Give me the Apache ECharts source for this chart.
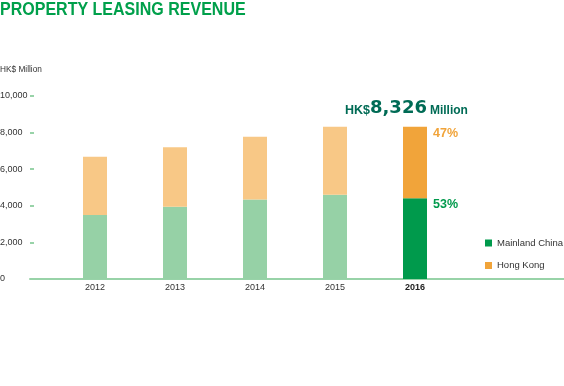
<!DOCTYPE html>
<html><head><meta charset="utf-8">
<script src="https://cdn.jsdelivr.net/npm/echarts@6/dist/echarts.min.js"></script>
<style>html,body{margin:0;padding:0;background:#fff}#c{width:564px;height:386px}</style>
</head><body><div id="c"></div>
<script>
var years = ['2012','2013','2014','2015','2016'];
var mainland = [3500, 3950, 4350, 4610, 4413];
var hongKong = [3180, 3250, 3430, 3710, 3913];
var yTicks = [0, 2000, 4000, 6000, 8000, 10000];
var shares = ['53%', '47%'];
var totalLabel = '8,326';

var SANS = '"Liberation Sans", Arial, sans-serif';
var lightG = '#96d1a6', lightO = '#f8c886', darkG = '#009a4c', darkO = '#f1a43a';
var last = years.length - 1;

function build(vals, light, dark, lbl, lblColor) {
  return vals.map(function (v, i) {
    var d = { value: v, itemStyle: { color: i === last ? dark : light } };
    if (i === last) {
      d.label = { show: true, formatter: lbl, position: [30, 0], align: 'left', verticalAlign: 'top',
        color: lblColor, fontFamily: SANS, fontWeight: 'bold', fontSize: 12.5 };
    }
    return d;
  });
}

var chart = echarts.init(document.getElementById('c'), null, { renderer: 'canvas' });
chart.setOption({
  animation: false,
  graphic: [
    { type: 'text', x: 0, y: 1.5, scaleX: 0.89, style: { text: 'PROPERTY LEASING REVENUE', fill: '#00a04b',
      font: 'bold 18px ' + SANS, textVerticalAlign: 'top' } },
    { type: 'text', x: 0, y: 65, scaleX: 0.92, style: { text: 'HK$ Million', fill: '#333', font: '9px ' + SANS, textVerticalAlign: 'top' } },
    { type: 'text', x: 345, y: 117, style: {
      text: '{a|HK$}{b|' + totalLabel + '}{c|Million}',
      textVerticalAlign: 'bottom',
      rich: {
        a: { fill: '#006b55', fontFamily: SANS, fontWeight: 'bold', fontSize: 12.5, verticalAlign: 'bottom' },
        b: { fill: '#006b55', fontFamily: 'DejaVu Sans', fontWeight: 'bold', fontSize: 18, verticalAlign: 'bottom' },
        c: { fill: '#006b55', fontFamily: SANS, fontWeight: 'bold', fontSize: 12, verticalAlign: 'bottom', padding: [0, 0, 0, 3] }
      }
    } }
  ],
  legend: {
    orient: 'vertical', left: 480, top: 232, itemWidth: 7, itemHeight: 7, itemGap: 10.5,
    icon: 'rect', textStyle: { color: '#333', fontFamily: SANS, fontSize: 9.5, lineHeight: 12 },
    data: ['Mainland China', 'Hong Kong']
  },
  grid: [
    { left: 55, width: 400, top: 96, height: 183, outerBoundsMode: 'none', containLabel: false },
    { left: 30, right: 0, top: 96, height: 183, outerBoundsMode: 'none', containLabel: false }
  ],
  xAxis: [
    { type: 'category', gridIndex: 0, data: years,
      axisLine: { show: false }, axisTick: { show: false },
      axisLabel: { margin: 4, color: '#333', fontFamily: SANS, fontSize: 9,
        formatter: function (v, i) { return i === last ? '{b|' + v + '}' : v; },
        rich: { b: { fontWeight: 'bold', color: '#222', fontFamily: SANS, fontSize: 9 } } } },
    { type: 'value', gridIndex: 1, min: 0, max: 1, show: true,
      axisLine: { show: true, lineStyle: { color: '#98d3a8', width: 2 } },
      axisTick: { show: false }, axisLabel: { show: false }, splitLine: { show: false } }
  ],
  yAxis: [
    { type: 'value', gridIndex: 0, min: 0, max: 10000, interval: 2000, show: false },
    { type: 'value', gridIndex: 1, min: 0, max: 10000, interval: 2000,
      axisLine: { show: false }, splitLine: { show: false },
      axisTick: { show: true, inside: true, length: 4, lineStyle: { color: '#98d3a8', width: 2 } },
      axisLabel: { show: true, align: 'left', margin: 30, color: '#333', fontFamily: SANS, fontSize: 9,
        formatter: function (v) { return v.toLocaleString('en-US'); } } }
  ],
  series: [
    { name: 'Mainland China', type: 'bar', stack: 't', barWidth: 24, xAxisIndex: 0, yAxisIndex: 0,
      itemStyle: { color: darkG }, data: build(mainland, lightG, darkG, shares[0], '#009a4c') },
    { name: 'Hong Kong', type: 'bar', stack: 't', barWidth: 24, xAxisIndex: 0, yAxisIndex: 0,
      itemStyle: { color: darkO }, data: build(hongKong, lightO, darkO, shares[1], '#f1a43a') }
  ]
});
</script></body></html>
